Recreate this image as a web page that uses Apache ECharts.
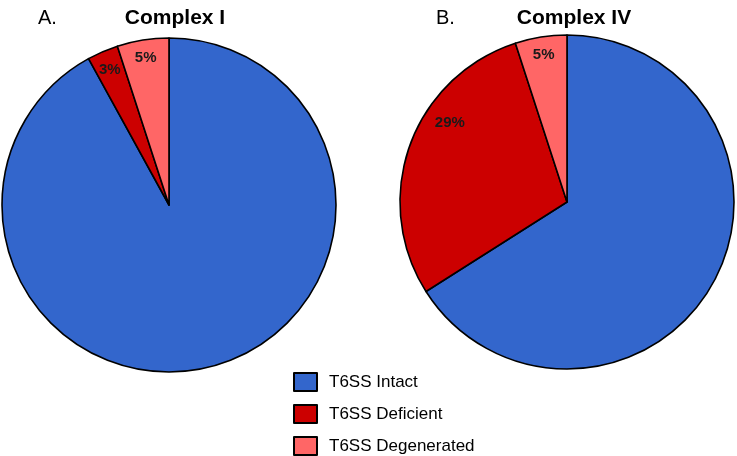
<!DOCTYPE html>
<html>
<head>
<meta charset="utf-8">
<script src="https://cdn.jsdelivr.net/npm/echarts@6/dist/echarts.min.js"></script>
<style>
  html, body { margin: 0; padding: 0; background: #fff; }
  #chart { width: 737px; height: 456px; }
</style>
</head>
<body>
<div id="chart"></div>
<script>
// categories and values
const categories = ["T6SS Intact", "T6SS Deficient", "T6SS Degenerated"];
const complexI = [92, 3, 5];
const complexIV = [66, 29, 5];
const colors = ["#3366CC", "#CC0000", "#FF6666"];

function pieData(values) {
  return categories.map((name, i) => ({ name: name, value: values[i], itemStyle: { color: colors[i] } }));
}

// slices
function slicePie(values, center) {
  return {
    type: "pie",
    center: center,
    radius: [0, 167],
    startAngle: 90,
    clockwise: true,
    silent: true,
    animation: false,
    label: { show: false },
    labelLine: { show: false },
    itemStyle: { borderColor: "#000", borderWidth: 1.6 },
    data: pieData(values),
  };
}

// invisible ring only used to put the percent labels near the rim
function labelPie(values, center, offsets) {
  return {
    type: "pie",
    center: center,
    radius: [125, 167],
    startAngle: 90,
    clockwise: true,
    silent: true,
    animation: false,
    itemStyle: { color: "transparent", borderWidth: 0 },
    label: {
      show: true,
      position: "inside",
      formatter: "{c}%",
      fontFamily: "Liberation Sans, Arial, sans-serif",
      fontWeight: "bold",
      fontSize: 15,
      color: "#1a1a1a",
    },
    labelLine: { show: false },
    data: categories.map((name, i) => ({
      name: name,
      value: values[i],
      label: i === 0 ? { show: false } : { offset: offsets[i] },
    })),
  };
}

let myChart = echarts.init(document.getElementById("chart"));
const font = "Liberation Sans, Arial, sans-serif";
myChart.setOption({
  animation: false,
  title: [
    { text: "A.", left: 33, top: 3, textStyle: { fontFamily: font, fontWeight: "normal", fontSize: 20, color: "#000" } },
    { text: "Complex I", left: 170, textAlign: "center", top: 3, textStyle: { fontFamily: font, fontWeight: "bold", fontSize: 21, color: "#000" } },
    { text: "B.", left: 431, top: 3, textStyle: { fontFamily: font, fontWeight: "normal", fontSize: 20, color: "#000" } },
    { text: "Complex IV", left: 569, textAlign: "center", top: 3, textStyle: { fontFamily: font, fontWeight: "bold", fontSize: 21, color: "#000" } },
  ],
  legend: {
    orient: "vertical",
    left: 293,
    top: 372,
    height: 120,
    padding: 0,
    icon: "rect",
    itemWidth: 23,
    itemHeight: 18,
    itemGap: 12,
    selectedMode: false,
    itemStyle: { borderColor: "#000", borderWidth: 2 },
    textStyle: { fontFamily: font, fontSize: 17, lineHeight: 19, color: "#000", padding: [0, 0, 0, 7] },
    data: categories.map((name, i) => ({ name: name, itemStyle: { color: colors[i] } })),
  },
  series: [
    slicePie(complexI, [169, 205]),
    slicePie(complexIV, [567, 202]),
    labelPie(complexI, [169, 205], [[0, 0], [0, 2], [0, 0]]),
    labelPie(complexIV, [567, 202], [[0, 0], [23, -29], [0, 0]]),
  ],
});
</script>
</body>
</html>
